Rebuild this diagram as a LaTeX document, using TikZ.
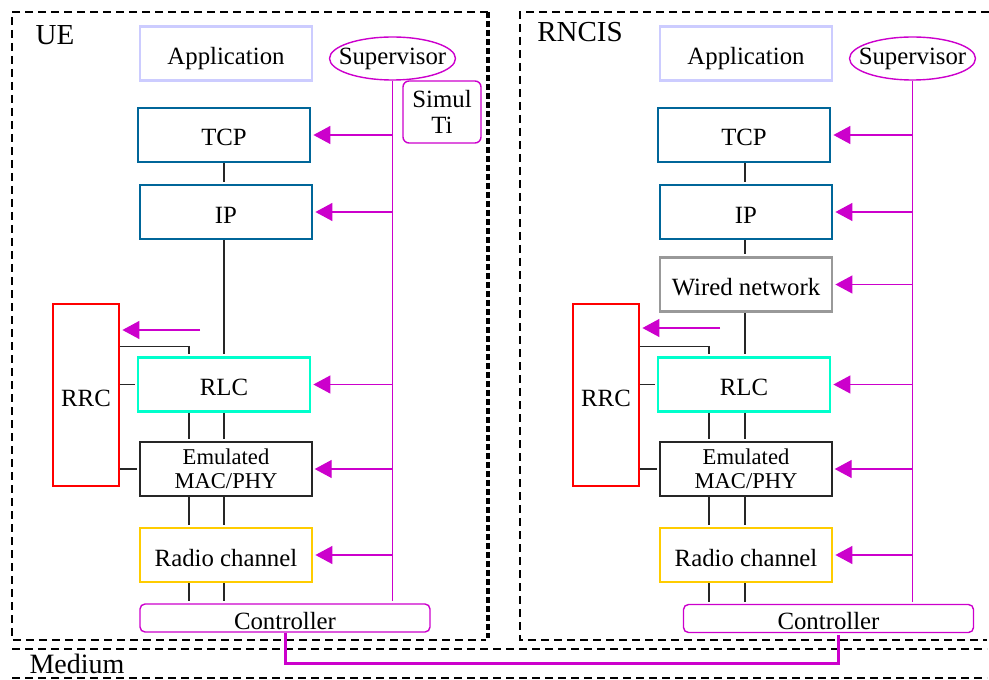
\documentclass[tikz,border=0pt]{standalone}
\usepackage{fontspec}
\setmainfont{Liberation Serif}
\usepackage{tikz}
\usetikzlibrary{arrows.meta,shapes}

\definecolor{lavender}{RGB}{204,204,255}
\definecolor{stackblue}{RGB}{0,102,153}
\definecolor{rlccyan}{RGB}{0,255,204}
\definecolor{radiogold}{RGB}{255,204,0}
\definecolor{wiredgray}{RGB}{153,153,153}
\definecolor{supmag}{RGB}{204,0,204}

\begin{document}
\begin{tikzpicture}[-,>={Triangle[length=8.5pt,width=9pt]},shorten >=1pt,
                    x=0.5pt,y=-0.5pt,node distance=260pt,
                    font=\fontsize{12.4}{14}\selectfont]
  \tikzstyle{every node}=[inner sep=0pt,text=black]
  \tikzstyle{oneline}=[text height=11pt,text depth=0pt]
  \tikzstyle{layer}=[draw,rectangle,line width=1.4pt,minimum width=86pt,minimum height=27pt]
  \tikzstyle{appl}=[layer,oneline,draw=lavender]
  \tikzstyle{stack}=[layer,oneline,draw=stackblue]
  \tikzstyle{wired}=[layer,oneline,draw=wiredgray]
  \tikzstyle{rlc}=[layer,oneline,draw=rlccyan]
  \tikzstyle{radio}=[layer,oneline,draw=radiogold]
  \tikzstyle{mac}=[layer,line width=0.7pt,draw=black!85,align=center,
                   font=\fontsize{11.3}{12}\selectfont]
  \tikzstyle{rrc}=[oneline,draw=red,line width=1.4pt,minimum width=33pt,minimum height=91pt]
  \tikzstyle{super}=[ellipse,draw=supmag,line width=0.7pt,inner xsep=-4.6pt,inner ysep=1.6pt,
                     minimum width=62.5pt,minimum height=21.5pt]
  \tikzstyle{simul}=[draw=supmag,line width=0.7pt,rounded corners=3pt,align=center,
                     minimum width=39pt,minimum height=31pt,font=\fontsize{12.4}{13}\selectfont]
  \tikzstyle{ctrl}=[oneline,draw=supmag,line width=0.7pt,rounded corners=2.5pt,
                    minimum width=145pt,minimum height=14pt]
  \tikzstyle{wire}=[color=black!85,line width=0.65pt]
  \tikzstyle{sup}=[color=supmag,line width=0.65pt]
  \tikzstyle{link}=[draw=supmag,line width=1.5pt]
  \tikzstyle{frame}=[line width=1pt,dash pattern=on 4pt off 2.5pt]

  \useasboundingbox (0,0) rectangle (989,679);

  \node[appl]  (UAPP) at (226,53.5)  {Application};
  \node[super] (USUP) at (392.5,58.5) {Supervisor};
  \node[simul] (USIM) at (442,112)   {Simul\\Ti};
  \node[stack] (UTCP) at (224,135)   {TCP};
  \node[stack] (UIP)  at (226,212)   {IP};
  \node[rlc]   (URLC) at (224,384.5) {RLC};
  \node[mac]   (UMAC) at (226,469)   {Emulated\\MAC/PHY};
  \node[radio] (URAD) at (226,555)   {Radio channel};
  \node[rrc]   (URRC) at (86,395)    {RRC};
  \node[ctrl]  (UCTL) at (285,618)   {Controller};

  \node[appl]  (RAPP)  [right of=UAPP] {Application};
  \node[super] (RSUP)  [right of=USUP] {Supervisor};
  \node[stack] (RTCP)  [right of=UTCP] {TCP};
  \node[stack] (RIP)   [right of=UIP]  {IP};
  \node[wired] (RWIRE) [below of=RIP,node distance=36.25pt] {Wired network};
  \node[rlc]   (RRLC)  [right of=URLC] {RLC};
  \node[mac]   (RMAC)  [right of=UMAC] {Emulated\\MAC/PHY};
  \node[radio] (RRAD)  [right of=URAD] {Radio channel};
  \node[rrc]   (RRRC)  [right of=URRC] {RRC};
  \node[ctrl]  (RCTL)  at (828.5,618.5) {Controller};

  \node[font=\fontsize{14.5}{16}\selectfont] (UELBL) at (55,35) {UE};
  \node[font=\fontsize{14.5}{16}\selectfont] (RNLBL) at (580,32) {RNCIS};
  \node[font=\fontsize{14}{16}\selectfont]   (MEDLBL) at (77,664) {Medium};

  \coordinate (ULEFT) at (189,0);
  \coordinate (UMID)  at (224,0);
  \coordinate (RLEFT) at (709,0);
  \coordinate (RMID)  at (745,0);
  \coordinate (UFREE) at (200,330);
  \coordinate (RFREE) at (720,328);
  \coordinate (MEDLINK) at (560,663);

  \draw[frame] (488,12) -- (12,12) -- (12,640) -- (488,640);
  \draw[line width=2pt,dash pattern=on 3pt off 1.5pt] (488,12) -- (488,640);
  \draw[frame] (989,12) -- (520,12) -- (520,640) -- (989,640);
  \draw[frame] (12,649) -- (989,649);
  \draw[frame] (12,678) -- (989,678);

  \path[wire] (UTCP.south -| UMID) edge (UIP.north -| UMID)
              (UIP.south -| UMID) edge (URLC.north -| UMID)
              (URLC.south -| ULEFT) edge (UMAC.north -| ULEFT)
              (URLC.south -| UMID) edge (UMAC.north -| UMID)
              (UMAC.south -| ULEFT) edge (URAD.north -| ULEFT)
              (UMAC.south -| UMID) edge (URAD.north -| UMID)
              (URAD.south -| ULEFT) edge (UCTL.north -| ULEFT)
              (URAD.south -| UMID) edge (UCTL.north -| UMID)
              (URRC.east |- URLC.west) edge (URLC.west)
              (URRC.east |- UMAC.west) edge (UMAC.west);
  \draw[wire] ([yshift=-22pt]URRC.north east) -| (URLC.north -| ULEFT);

  \path[wire] (RTCP.south -| RMID) edge (RIP.north -| RMID)
              (RIP.south -| RMID) edge (RWIRE.north -| RMID)
              (RWIRE.south -| RMID) edge (RRLC.north -| RMID)
              (RRLC.south -| RLEFT) edge (RMAC.north -| RLEFT)
              (RRLC.south -| RMID) edge (RMAC.north -| RMID)
              (RMAC.south -| RLEFT) edge (RRAD.north -| RLEFT)
              (RMAC.south -| RMID) edge (RRAD.north -| RMID)
              (RRAD.south -| RLEFT) edge (RCTL.north -| RLEFT)
              (RRAD.south -| RMID) edge (RCTL.north -| RMID)
              (RRRC.east |- RRLC.west) edge (RRLC.west)
              (RRRC.east |- RMAC.west) edge (RMAC.west);
  \draw[wire] ([yshift=-22pt]RRRC.north east) -| (RRLC.north -| RLEFT);

  \draw[sup] (USUP.south) -- (USUP.south |- UCTL.north);
  \path[sup] (USUP.south |- UTCP.east) edge[->] (UTCP.east)
             (USUP.south |- UIP.east)  edge[->] (UIP.east)
             (USUP.south |- URLC.east) edge[->] (URLC.east)
             (USUP.south |- UMAC.east) edge[->] (UMAC.east)
             (USUP.south |- URAD.east) edge[->] (URAD.east)
             (UFREE) edge[->] (URRC.east |- UFREE);

  \draw[sup] (RSUP.south) -- (RSUP.south |- RCTL.north);
  \path[sup] (RSUP.south |- RTCP.east)  edge[->] (RTCP.east)
             (RSUP.south |- RIP.east)   edge[->] (RIP.east)
             (RSUP.south |- RWIRE.east) edge[->] (RWIRE.east)
             (RSUP.south |- RRLC.east)  edge[->] (RRLC.east)
             (RSUP.south |- RMAC.east)  edge[->] (RMAC.east)
             (RSUP.south |- RRAD.east)  edge[->] (RRAD.east)
             (RFREE) edge[->] (RRRC.east |- RFREE);

  \draw[link] (UCTL.south) |- (MEDLINK) -| ([xshift=5pt]RCTL.south);
\end{tikzpicture}
\end{document}
